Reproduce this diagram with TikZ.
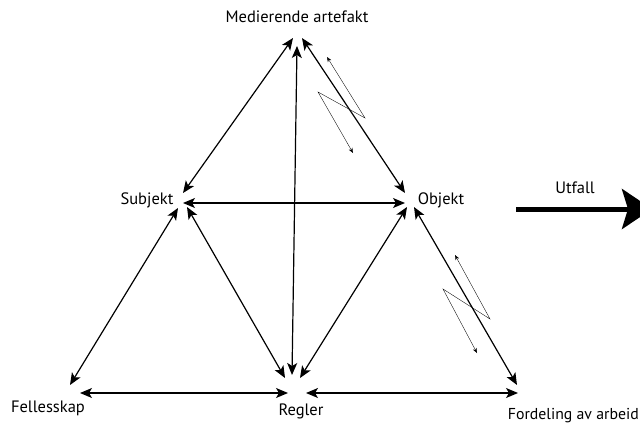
\documentclass[tikz,border=0pt]{standalone}
\usepackage{fontspec}
\setmainfont{PT Sans}
\usetikzlibrary{arrows.meta}
\tikzset{
  lbl/.style={font=\fontsize{16.5}{18}\selectfont, inner sep=0pt},
  link/.style={{Stealth[length=12pt,width=10pt,inset=3pt]}-{Stealth[length=12pt,width=10pt,inset=3pt]}, line width=1.2pt},
  hint/.style={{Stealth[length=5pt,width=4pt]}-{Stealth[length=5pt,width=4pt]}, line width=0.35pt},
  outcome/.style={-{Stealth[length=30pt,width=40pt,inset=6pt]}, line width=5pt}
}
\begin{document}
\begin{tikzpicture}[x=1pt,y=-1pt]
\useasboundingbox (0,0) rectangle (640,426);
\clip (0,0) rectangle (640,426);
% labels
\node[lbl] (art) at (297,17) {Medierende artefakt};
\node[lbl] (subj) at (147,200) {Subjekt};
\node[lbl] (obj) at (441,200) {Objekt};
\node[lbl] (fell) at (48,408) {Fellesskap};
\node[lbl] (regl) at (301,411) {Regler};
\node[lbl, anchor=east, font=\fontsize{15.8}{18}\selectfont] (ford) at (639,416) {Fordeling av arbeid};
\node[lbl] (utf) at (575,188) {Utfall};

% end points round the corners
\coordinate (a-l) at (293,38);
\coordinate (a-r) at (302,38);
\coordinate (a-b) at (297,46);
\coordinate (s-t) at (183,193);
\coordinate (s-r) at (183,203);
\coordinate (s-b) at (187,207);
\coordinate (s-l) at (178,208);
\coordinate (o-t) at (405,193);
\coordinate (o-l) at (405,203);
\coordinate (o-b) at (407,207);
\coordinate (o-r) at (414,207);
\coordinate (f-t) at (70,385);
\coordinate (f-r) at (80,393);
\coordinate (r-t) at (292,375);
\coordinate (r-l) at (285,378);
\coordinate (r-r) at (300,378);
\coordinate (r-w) at (288,393);
\coordinate (r-e) at (306,393);
\coordinate (d-t) at (517,385);
\coordinate (d-l) at (518,393);

% triangle
\draw[link] (s-t) -- (a-l);
\draw[link] (o-t) -- (a-r);
\draw[link] (r-t) -- (a-b);
\draw[link] (s-r) -- (o-l);
\draw[link] (s-l) -- (f-t);
\draw[link] (s-b) -- (r-l);
\draw[link] (o-b) -- (r-r);
\draw[link] (o-r) -- (d-t);
\draw[link] (f-r) -- (r-w);
\draw[link] (r-e) -- (d-l);

% small zigzags
\draw[hint] (327,57) -- (365,118) -- (318,92) -- (353,153);
\draw[hint] (455,255) -- (490,319) -- (443,289) -- (477,353);

% outcome
\coordinate (out-s) at (516,209);
\coordinate (out-e) at (652,209);
\draw[outcome] (out-s) -- (out-e);
\end{tikzpicture}
\end{document}
